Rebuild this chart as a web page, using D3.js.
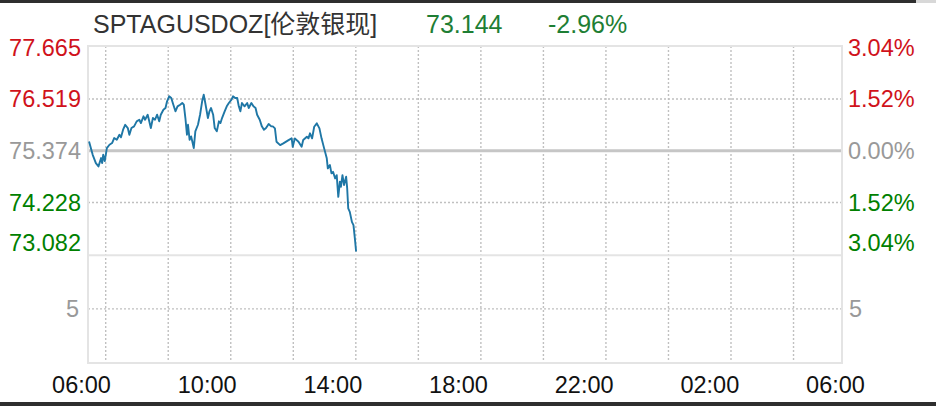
<!DOCTYPE html>
<html>
<head>
<meta charset="utf-8">
<script src="https://cdn.jsdelivr.net/npm/d3@7"></script>
<style>
  html, body { margin: 0; padding: 0; background: #fff; }
  svg { display: block; }
  text { font-family: "Liberation Sans", Arial, "Noto Sans CJK SC", sans-serif; }
</style>
</head>
<body>
<svg id="chart" width="936" height="406"></svg>
<script>
// ---------------- data ----------------
const symbol = "SPTAGUSDOZ[伦敦银现]";
const lastPrice = "73.144";
const lastChange = "-2.96%";
const prevClose = 75.374;

// minutes after 06:00
const times = [2,9,15,20,25,27,29,32,36,41,46,50,55,60,63,67,71,76,79,83,88,93,98,101,106,109,114,117,120,124,128,132,136,139,144,148,151,155,159,163,167,171,176,180,183,186,189,191,194,197,202,205,210,214,218,221,224,229,232,235,239,242,246,250,253,256,261,265,269,274,277,281,285,288,291,294,299,304,307,312,316,320,323,328,332,336,340,345,350,353,357,360,367,373,383,389,391,395,402,408,411,418,421,424,428,432,437,442,446,451,456,458,462,465,468,472,475,478,481,483,486,489,493,495,497,500,504,507,510,512];
const prices = [75.582,75.285,75.101,75.028,75.212,75.101,75.285,75.146,75.434,75.507,75.545,75.656,75.618,75.729,75.671,75.840,75.950,75.877,75.729,75.877,75.915,76.026,76.061,75.988,76.137,76.061,76.172,76.026,75.877,76.099,76.061,76.172,76.026,76.172,76.283,76.321,76.469,76.580,76.542,76.394,76.248,76.358,76.394,76.432,76.394,76.099,75.729,75.950,75.618,75.693,75.434,75.804,75.950,76.172,76.469,76.616,76.432,76.099,76.248,76.321,76.172,75.877,75.804,76.026,75.988,76.099,76.248,76.358,76.432,76.505,76.580,76.542,76.542,76.358,76.248,76.432,76.358,76.432,76.321,76.432,76.358,76.321,76.172,76.061,75.915,75.840,75.877,75.966,75.915,75.915,75.871,75.574,75.500,75.538,75.611,75.649,75.463,75.649,75.574,75.463,75.611,75.684,75.649,75.760,75.649,75.906,75.982,75.871,75.649,75.427,75.206,74.984,75.057,74.873,74.908,74.762,74.835,74.354,74.687,74.576,74.835,74.614,74.798,74.540,74.097,74.022,73.800,73.727,73.394,73.144];

const priceTicks = [77.665, 76.519, 75.374, 74.228, 73.082];
const priceTickLabels = ["77.665", "76.519", "75.374", "74.228", "73.082"];
const pctTickLabels = ["3.04%", "1.52%", "0.00%", "1.52%", "3.04%"];
const volumeTicks = [5];
const volumeTickLabels = ["5"];
const timeTickLabels = ["06:00", "10:00", "14:00", "18:00", "22:00", "02:00", "06:00"];

// ---------------- layout ----------------
const W = 936, H = 406;
const L = 88, R = 842, T = 46, MB = 254.8, VB = 363;
const RED = "#d0121b", GREEN = "#008000", GRAY = "#999999";
const svg = d3.select("#chart");

const t0 = new Date(2024, 0, 1, 6, 0, 0);
const toDate = m => new Date(t0.getTime() + m * 60000);
const x = d3.scaleTime().domain([t0, toDate(24 * 60)]).range([L, R]);
const y = d3.scaleLinear().domain([73.082, 77.665]).range([254.3, 47.3]);
const yv = d3.scaleLinear().domain([0, 10]).range([VB, MB]);

// window bars
svg.append("rect").attr("x", 0).attr("y", 0).attr("width", 916).attr("height", 3).attr("fill", "#2e2e2e");
svg.append("rect").attr("x", 916).attr("y", 0).attr("width", 20).attr("height", 3).attr("fill", "#d8d8d8");
svg.append("rect").attr("x", 0).attr("y", 402).attr("width", W).attr("height", 4).attr("fill", "#2e2e2e");

// vertical dotted gridlines
const gridX = d3.range(12).map(i => L + 17.7 + i * 62.53);
svg.append("g").selectAll("line").data(gridX).join("line")
  .attr("x1", d => d).attr("x2", d => d)
  .attr("y1", T).attr("y2", VB)
  .attr("stroke", "#c0c0c0").attr("stroke-width", 1.4).attr("stroke-dasharray", "2,2");

// horizontal dotted gridlines (main)
svg.append("g").selectAll("line").data([priceTicks[1], priceTicks[3]]).join("line")
  .attr("x1", L).attr("x2", R)
  .attr("y1", d => y(d)).attr("y2", d => y(d))
  .attr("stroke", "#c0c0c0").attr("stroke-width", 1.4).attr("stroke-dasharray", "2,2");

// horizontal dotted gridline (volume)
svg.append("g").selectAll("line").data(volumeTicks).join("line")
  .attr("x1", L).attr("x2", R)
  .attr("y1", d => yv(d)).attr("y2", d => yv(d))
  .attr("stroke", "#c0c0c0").attr("stroke-width", 1.4).attr("stroke-dasharray", "2,2");

// base (prev close) line
svg.append("line").attr("x1", L).attr("x2", R)
  .attr("y1", y(prevClose)).attr("y2", y(prevClose))
  .attr("stroke", "#c6c6c6").attr("stroke-width", 3);

// frame borders
const bc = "#e4e4e4";
svg.append("rect").attr("x", L).attr("y", T).attr("width", R - L).attr("height", VB - T)
  .attr("fill", "none").attr("stroke", bc).attr("stroke-width", 2);
svg.append("line").attr("x1", L).attr("x2", R).attr("y1", MB + 0.5).attr("y2", MB + 0.5)
  .attr("stroke", bc).attr("stroke-width", 2);

// price line
const line = d3.line().x((d, i) => x(toDate(times[i]))).y(d => y(d));
svg.append("path").datum(prices)
  .attr("d", line)
  .attr("fill", "none").attr("stroke", "#1f77a6").attr("stroke-width", 1.9)
  .attr("stroke-linejoin", "round");

// y labels
const fs = 23.5;
const labColor = v => Math.abs(v - prevClose) < 1e-6 ? GRAY : (v > prevClose ? RED : GREEN);
const labY = v => Math.min(y(v), 242.3) + 0.358 * fs;
svg.append("g").selectAll("text").data(priceTicks).join("text")
  .attr("x", 81).attr("y", d => labY(d))
  .attr("text-anchor", "end").attr("font-size", fs)
  .attr("fill", d => labColor(d))
  .text((d, i) => priceTickLabels[i]);
svg.append("g").selectAll("text").data(priceTicks).join("text")
  .attr("x", 848).attr("y", d => labY(d))
  .attr("text-anchor", "start").attr("font-size", fs)
  .attr("fill", d => labColor(d))
  .text((d, i) => pctTickLabels[i]);

// volume labels
svg.append("g").selectAll("text").data(volumeTicks).join("text")
  .attr("x", 79).attr("y", d => yv(d) + 0.358 * fs)
  .attr("text-anchor", "end").attr("font-size", fs).attr("fill", GRAY)
  .text((d, i) => volumeTickLabels[i]);
svg.append("g").selectAll("text").data(volumeTicks).join("text")
  .attr("x", 849).attr("y", d => yv(d) + 0.358 * fs)
  .attr("text-anchor", "start").attr("font-size", fs).attr("fill", GRAY)
  .text((d, i) => volumeTickLabels[i]);

// x labels
svg.append("g").selectAll("text").data(timeTickLabels).join("text")
  .attr("x", (d, i) => x(toDate(i * 240)) - 6.5)
  .attr("y", 393)
  .attr("text-anchor", "middle").attr("font-size", fs).attr("fill", "#111")
  .text(d => d);

// title
svg.append("text").attr("x", 93).attr("y", 33.3).attr("font-size", 25).attr("fill", "#333").text(symbol);
svg.append("text").attr("x", 426).attr("y", 33.3).attr("font-size", 25).attr("fill", "#1e7e34").text(lastPrice);
svg.append("text").attr("x", 548).attr("y", 33.3).attr("font-size", 25).attr("fill", "#1e7e34").text(lastChange);
</script>
</body>
</html>
